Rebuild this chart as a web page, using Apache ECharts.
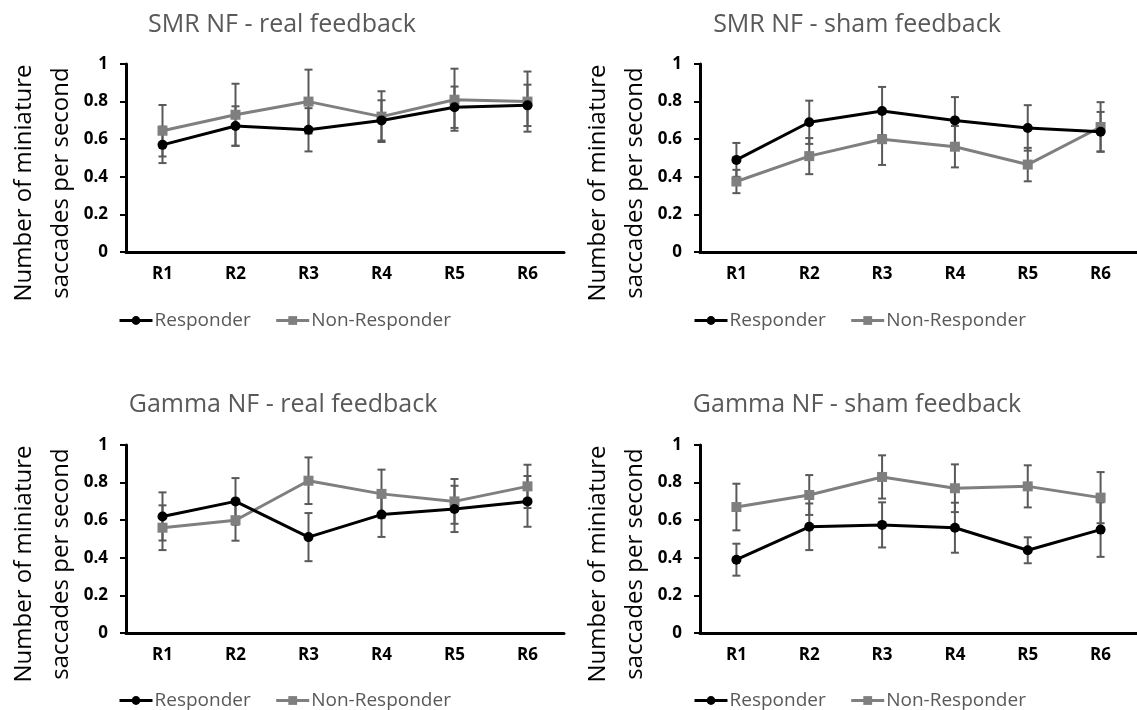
<!DOCTYPE html>
<html>
<head>
<meta charset="utf-8">
<script src="https://cdn.jsdelivr.net/npm/echarts@6/dist/echarts.min.js"></script>
<style>
html, body { margin: 0; padding: 0; background: #fff; }
#chart { width: 1137px; height: 710px; }
</style>
</head>
<body>
<div id="chart"></div>
<script>
var categories = ['R1', 'R2', 'R3', 'R4', 'R5', 'R6'];
var yTicks = [0, 0.2, 0.4, 0.6, 0.8, 1];

// SMR NF - real feedback
var smrRealResp = [0.57, 0.67, 0.65, 0.70, 0.77, 0.78];
var smrRealRespErr = [0.097, 0.105, 0.115, 0.107, 0.11, 0.11];
var smrRealNon = [0.645, 0.73, 0.80, 0.72, 0.81, 0.80];
var smrRealNonErr = [0.137, 0.165, 0.17, 0.135, 0.165, 0.16];

// SMR NF - sham feedback
var smrShamResp = [0.49, 0.69, 0.75, 0.70, 0.66, 0.64];
var smrShamRespErr = [0.09, 0.115, 0.128, 0.124, 0.121, 0.105];
var smrShamNon = [0.375, 0.51, 0.60, 0.56, 0.465, 0.665];
var smrShamNonErr = [0.062, 0.096, 0.137, 0.11, 0.089, 0.132];

// Gamma NF - real feedback
var gamRealResp = [0.62, 0.70, 0.51, 0.63, 0.66, 0.70];
var gamRealRespErr = [0.128, 0.124, 0.128, 0.119, 0.123, 0.135];
var gamRealNon = [0.56, 0.60, 0.81, 0.74, 0.70, 0.78];
var gamRealNonErr = [0.119, 0.109, 0.124, 0.129, 0.119, 0.115];

// Gamma NF - sham feedback
var gamShamResp = [0.39, 0.565, 0.575, 0.56, 0.44, 0.55];
var gamShamRespErr = [0.085, 0.124, 0.12, 0.133, 0.069, 0.145];
var gamShamNon = [0.67, 0.734, 0.83, 0.77, 0.78, 0.72];
var gamShamNonErr = [0.124, 0.106, 0.115, 0.127, 0.112, 0.136];

var titles = ['SMR NF - real feedback', 'SMR NF - sham feedback',
              'Gamma NF - real feedback', 'Gamma NF - sham feedback'];

var panels = [
    { resp: smrRealResp, respErr: smrRealRespErr, non: smrRealNon, nonErr: smrRealNonErr },
    { resp: smrShamResp, respErr: smrShamRespErr, non: smrShamNon, nonErr: smrShamNonErr },
    { resp: gamRealResp, respErr: gamRealRespErr, non: gamRealNon, nonErr: gamRealNonErr },
    { resp: gamShamResp, respErr: gamShamRespErr, non: gamShamNon, nonErr: gamShamNonErr }
];

// layout of the 4 plots
var grids = [
    { left: 126, top: 64, width: 438, height: 188 },
    { left: 700, top: 64, width: 437, height: 188 },
    { left: 126, top: 445, width: 438, height: 188 },
    { left: 700, top: 445, width: 437, height: 188 }
];
var titlePos = [[282, 25], [857, 25], [283, 405], [857, 405]];
var legendPos = [[113, 306], [688, 306], [113, 686], [688, 686]];

var font = '"Open Sans", sans-serif';
var errColor = '#595959';

function renderErr(params, api) {
    var x = api.value(0), m = api.value(1), e = api.value(2);
    var hi = api.coord([x, m + e]);
    var lo = api.coord([x, m - e]);
    var cap = 4;
    var style = { stroke: errColor, lineWidth: 2 };
    return {
        type: 'group',
        children: [
            { type: 'line', shape: { x1: hi[0], y1: hi[1], x2: lo[0], y2: lo[1] }, style: style },
            { type: 'line', shape: { x1: hi[0] - cap, y1: hi[1], x2: hi[0] + cap, y2: hi[1] }, style: style },
            { type: 'line', shape: { x1: lo[0] - cap, y1: lo[1], x2: lo[0] + cap, y2: lo[1] }, style: style }
        ]
    };
}

function errData(means, errs) {
    return means.map(function (m, j) { return [j, m, errs[j]]; });
}

var xAxes = [], yAxes = [], series = [], legends = [], graphics = [];

panels.forEach(function (p, i) {
    xAxes.push({
        type: 'category',
        gridIndex: i,
        data: categories,
        boundaryGap: true,
        axisLine: { lineStyle: { color: '#000', width: 3 } },
        axisTick: { alignWithLabel: true, length: 5, lineStyle: { color: '#000', width: 2 } },
        axisLabel: { color: '#000', fontWeight: 'bold', fontSize: 17, fontFamily: font, margin: 14 },
        splitLine: { show: false }
    });
    yAxes.push({
        type: 'value',
        gridIndex: i,
        min: 0,
        max: 1,
        interval: 0.2,
        name: 'Number of miniature\nsaccades per second',
        nameLocation: 'middle',
        nameRotate: 90,
        nameGap: 45,
        nameTextStyle: {
            color: '#000', fontSize: 24, fontFamily: font, lineHeight: 37,
            padding: [0, 50, 0, 0]
        },
        axisLine: { show: true, lineStyle: { color: '#000', width: 3 } },
        axisTick: { show: true, length: 6, lineStyle: { color: '#000', width: 2 } },
        axisLabel: { color: '#000', fontWeight: 'bold', fontSize: 17, fontFamily: font, margin: 18 },
        splitLine: { show: false }
    });
    series.push({
        type: 'custom',
        xAxisIndex: i, yAxisIndex: i,
        renderItem: renderErr,
        encode: { x: 0, y: 1 },
        data: errData(p.non, p.nonErr),
        z: 1,
        silent: true
    });
    series.push({
        type: 'custom',
        xAxisIndex: i, yAxisIndex: i,
        renderItem: renderErr,
        encode: { x: 0, y: 1 },
        data: errData(p.resp, p.respErr),
        z: 1,
        silent: true
    });
    series.push({
        name: 'Non-Responder',
        type: 'line',
        xAxisIndex: i, yAxisIndex: i,
        data: p.non,
        color: '#7f7f7f',
        symbol: 'rect',
        symbolSize: 10,
        lineStyle: { width: 3, color: '#7f7f7f' },
        itemStyle: { color: '#7f7f7f' },
        z: 2
    });
    series.push({
        name: 'Responder',
        type: 'line',
        xAxisIndex: i, yAxisIndex: i,
        data: p.resp,
        color: '#000',
        symbol: 'circle',
        symbolSize: 10,
        lineStyle: { width: 3, color: '#000' },
        itemStyle: { color: '#000' },
        z: 3
    });
    legends.push({
        left: legendPos[i][0],
        top: legendPos[i][1],
        data: ['Responder', 'Non-Responder'],
        itemWidth: 33,
        itemHeight: 11,
        itemGap: 24,
        selectedMode: false,
        lineStyle: { width: 3 },
        textStyle: { color: '#595959', fontSize: 19, fontFamily: font, padding: [0, 0, 0, -3] }
    });
    graphics.push({
        type: 'text',
        x: titlePos[i][0],
        y: titlePos[i][1],
        style: {
            text: titles[i],
            fill: '#595959',
            font: '25px ' + font,
            textAlign: 'center',
            textVerticalAlign: 'middle'
        }
    });
});

var chart = echarts.init(document.getElementById('chart'));
chart.setOption({
    animation: false,
    backgroundColor: '#fff',
    grid: grids,
    xAxis: xAxes,
    yAxis: yAxes,
    legend: legends,
    series: series,
    graphic: graphics
});
</script>
</body>
</html>
